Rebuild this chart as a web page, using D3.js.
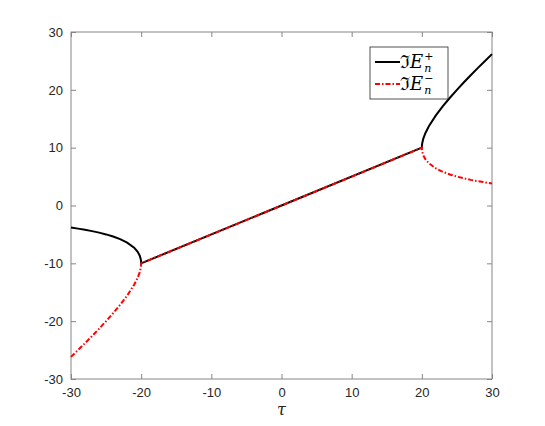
<!DOCTYPE html>
<html>
<head>
<meta charset="utf-8">
<script src="https://cdn.jsdelivr.net/npm/d3@7"></script>
<style>
  body { margin: 0; background: #fff; }
  text { font-family: "Liberation Sans", Arial, sans-serif; }
</style>
</head>
<body>
<div id="chart"></div>
<script>
// values
var tau = [-30, -29, -28, -27, -26, -25, -24, -23, -22, -21, -20.5, -20.2, -20.05, -20.01, -20,
           0,
           20, 20.01, 20.05, 20.2, 20.5, 21, 22, 23, 24, 25, 26, 27, 28, 29, 30];
var imEplus = [-3.82, -4, -4.2, -4.43, -4.69, -5, -5.37, -5.82, -6.42, -7.3, -8.0, -8.68, -9.32, -9.69, -10,
               0,
               10, 10.32, 10.73, 11.52, 12.5, 13.7, 15.58, 17.18, 18.63, 20, 21.31, 22.57, 23.8, 25, 26.18];
var imEminus = [-26.18, -25, -23.8, -22.57, -21.31, -20, -18.63, -17.18, -15.58, -13.7, -12.5, -11.52, -10.73, -10.32, -10,
                0,
                10, 9.69, 9.32, 8.68, 8.0, 7.3, 6.42, 5.82, 5.37, 5, 4.69, 4.43, 4.2, 4, 3.82];
var xTicks = [-30, -20, -10, 0, 10, 20, 30];
var yTicks = [-30, -20, -10, 0, 10, 20, 30];

var W = 545, H = 426;
var margin = {top: 32, right: 53, bottom: 47, left: 71},
    width = W - margin.left - margin.right,
    height = H - margin.top - margin.bottom;

var x = d3.scaleLinear().domain([-30, 30]).range([0, width]);
var y = d3.scaleLinear().domain([-30, 30]).range([height, 0]);

var svg = d3.select("#chart").append("svg")
    .attr("width", W)
    .attr("height", H)
  .append("g")
    .attr("transform", "translate(" + margin.left + "," + margin.top + ")");

var axisColor = "#868686", textColor = "#262626";
var plain = function(d) { return String(d); }; // keep hyphen-minus like the original

function styleAxis(g) {
  g.select(".domain").remove();
  g.selectAll(".tick line").attr("stroke", axisColor);
  g.selectAll(".tick text").attr("fill", textColor).style("font-size", "13px");
}

// axes, ticks pointing inward
svg.append("g")
    .attr("transform", "translate(0," + height + ")")
    .call(d3.axisBottom(x).tickValues(xTicks).tickFormat(plain).tickSizeInner(-5).tickSizeOuter(0).tickPadding(9))
    .call(styleAxis);
svg.append("g")
    .call(d3.axisLeft(y).tickValues(yTicks).tickFormat(plain).tickSizeInner(-5).tickSizeOuter(0).tickPadding(8))
    .call(styleAxis);
svg.append("g")
    .call(d3.axisTop(x).tickValues(xTicks).tickSizeInner(-5).tickSizeOuter(0).tickFormat(""))
    .call(styleAxis);
svg.append("g")
    .attr("transform", "translate(" + width + ",0)")
    .call(d3.axisRight(y).tickValues(yTicks).tickSizeInner(-5).tickSizeOuter(0).tickFormat(""))
    .call(styleAxis);

svg.append("rect")
    .attr("width", width)
    .attr("height", height)
    .attr("fill", "none")
    .attr("stroke", axisColor);

svg.append("text")
    .attr("x", x(0))
    .attr("y", height + 36)
    .attr("text-anchor", "middle")
    .style("font-family", "'DejaVu Serif', 'Liberation Serif', serif")
    .style("font-style", "italic")
    .style("font-size", "16px")
    .attr("fill", textColor)
    .text("τ");

var line = d3.line()
    .x(function(d, i) { return x(tau[i]); })
    .y(function(d) { return y(d); });

svg.append("path")
    .datum(imEplus)
    .attr("d", line)
    .attr("fill", "none")
    .attr("stroke", "#000")
    .attr("stroke-width", 2);

svg.append("path")
    .datum(imEminus)
    .attr("d", line)
    .attr("fill", "none")
    .attr("stroke", "#ff0000")
    .attr("stroke-width", 2)
    .attr("stroke-dasharray", "5,2,1.5,2");

// legend
var legend = svg.append("g")
    .attr("transform", "translate(" + (370 - margin.left) + "," + (47 - margin.top) + ")");
legend.append("rect")
    .attr("width", 78)
    .attr("height", 52)
    .attr("fill", "#fff")
    .attr("stroke", "#262626")
    .attr("stroke-width", 0.8);

var items = [
  {sign: "+", color: "#000", dash: null},
  {sign: "−", color: "#ff0000", dash: "5,2,1.5,2"}
];
var serif = "'DejaVu Serif', 'Liberation Serif', serif";
items.forEach(function(it, i) {
  var yy = 15 + i * 22;
  legend.append("line")
      .attr("x1", 5).attr("x2", 30)
      .attr("y1", yy).attr("y2", yy)
      .attr("stroke", it.color)
      .attr("stroke-width", 2)
      .attr("stroke-dasharray", it.dash);
  var t = legend.append("text")
      .attr("x", 30)
      .attr("y", yy + 6)
      .style("font-family", serif)
      .style("font-size", "18px")
      .attr("fill", "#000");
  t.append("tspan").text("ℑ");
  t.append("tspan").style("font-style", "italic").text("E");
  var sx = 30 + t.node().getComputedTextLength() + 1;
  legend.append("text")
      .attr("x", sx)
      .attr("y", yy - 2)
      .style("font-family", serif)
      .style("font-size", "11px")
      .text(it.sign);
  legend.append("text")
      .attr("x", sx)
      .attr("y", yy + 10)
      .style("font-family", serif)
      .style("font-style", "italic")
      .style("font-size", "11px")
      .text("n");
});
</script>
</body>
</html>
